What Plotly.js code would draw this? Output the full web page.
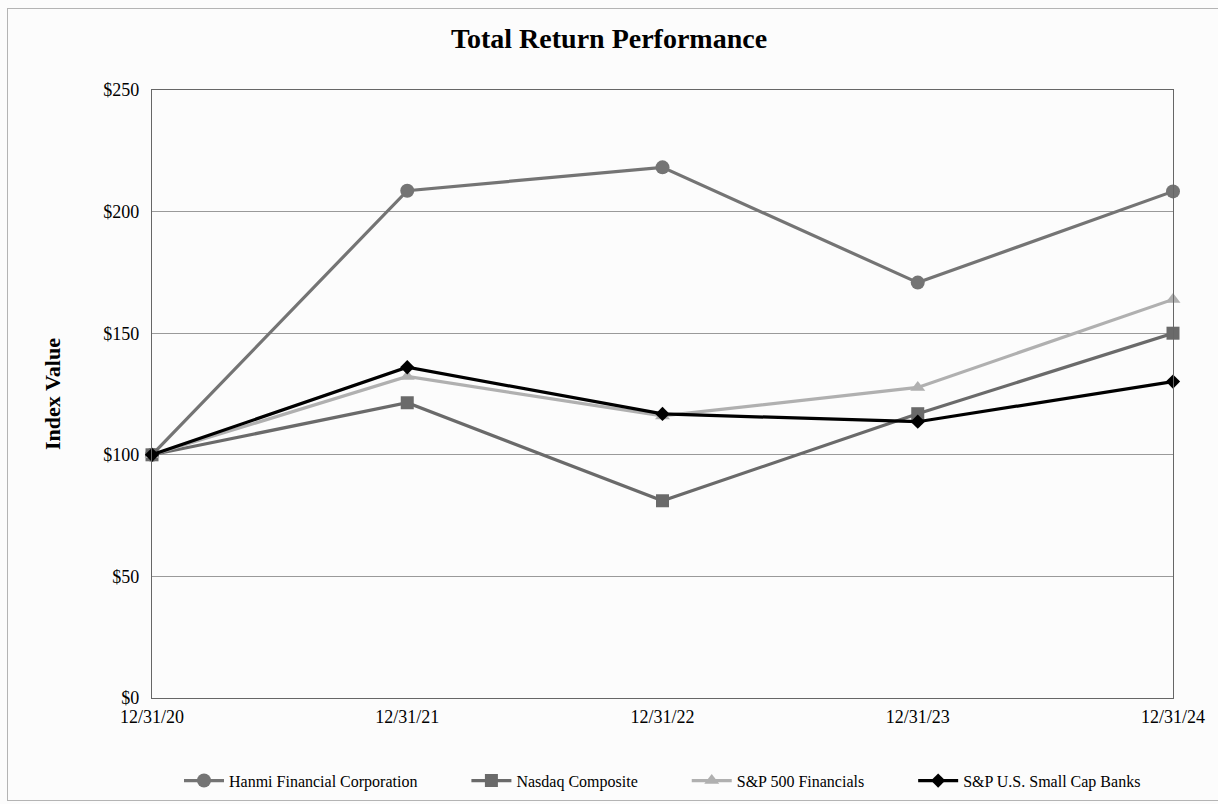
<!DOCTYPE html>
<html>
<head>
<meta charset="utf-8">
<script src="https://cdn.plot.ly/plotly-3.0.1.min.js"></script>
<style>
html,body{margin:0;padding:0;background:#ffffff;}
#wrap{position:relative;width:1218px;height:804px;}
#chart{position:absolute;left:0;top:0;width:1218px;height:804px;}
#frame{position:absolute;left:7px;top:8px;width:1215px;height:791px;border:1px solid #b4b4b4;pointer-events:none;}
</style>
</head>
<body>
<div id="wrap">
<div id="chart"></div>
<div id="frame"></div>
</div>
<script>
const dates = ["12/31/20", "12/31/21", "12/31/22", "12/31/23", "12/31/24"];
const hanmi = [100, 208.6, 218.2, 170.8, 208.3];
const nasdaq = [100, 121.4, 81.1, 116.9, 150.0];
const sp500Fin = [100, 132.2, 116.0, 127.7, 163.9];
const smallCapBanks = [100, 136.0, 116.8, 113.6, 130.1];
const seriesNames = ["Hanmi Financial Corporation", "Nasdaq Composite", "S&P 500 Financials", "S&P U.S. Small Cap Banks"];
const yTickVals = [0, 50, 100, 150, 200, 250];
const yTickText = ["$0", "$50", "$100", "$150", "$200", "$250"];

const xIdx = dates.map((d, i) => i);
const serif = "Liberation Serif, Times New Roman, serif";
const pad = "\u00a0".repeat(11);

const styles = [
  {y: hanmi, color: "#747474", symbol: "circle", size: 14},
  {y: nasdaq, color: "#6a6a6a", symbol: "square", size: 13},
  {y: sp500Fin, color: "#b0b0b0", symbol: "triangle-up", size: 13},
  {y: smallCapBanks, color: "#000000", symbol: "diamond", size: 11}
];
const traces = styles.map((t, i) => ({
  type: "scatter", mode: "lines+markers",
  name: seriesNames[i] + (i < styles.length - 1 ? pad : ""),
  x: xIdx, y: t.y,
  line: {color: t.color, width: 3.2},
  marker: {color: t.color, symbol: t.symbol, size: t.size},
  cliponaxis: false
}));

const layout = {
  width: 1218, height: 804,
  paper_bgcolor: "#fcfcfc", plot_bgcolor: "#fcfcfc",
  margin: {l: 152, r: 45, t: 90, b: 106, autoexpand: false},
  title: {text: "<b>Total Return Performance</b>", x: 0.5, xanchor: "center", y: 0.952, yanchor: "middle",
          font: {family: serif, size: 28, color: "#000"}},
  font: {family: serif, color: "#000"},
  xaxis: {
    range: [0, dates.length - 1], tickvals: xIdx, ticktext: dates,
    showgrid: false, zeroline: false, showline: true, linecolor: "#666", linewidth: 1.2,
    mirror: true, ticks: "", ticklabelstandoff: 2, tickfont: {family: serif, size: 18, color: "#000"}
  },
  yaxis: {
    range: [0, 250], tickvals: yTickVals, ticktext: yTickText,
    showgrid: true, gridcolor: "#9a9a9a", gridwidth: 1, zeroline: false,
    showline: true, linecolor: "#666", linewidth: 1.2, mirror: true, ticks: "",
    ticklabelstandoff: 8,
    tickfont: {family: serif, size: 18, color: "#000"},
    title: {text: "<b>Index Value</b>", font: {family: serif, size: 22, color: "#000"}, standoff: 36}
  },
  showlegend: true,
  legend: {orientation: "h", x: 0.5, xanchor: "center", y: -0.108, yanchor: "top",
           font: {family: serif, size: 16, color: "#000"}, tracegroupgap: 0, itemwidth: 40,
           bgcolor: "rgba(0,0,0,0)"}
};

Plotly.newPlot("chart", traces, layout, {displayModeBar: false, staticPlot: true});
</script>
</body>
</html>
